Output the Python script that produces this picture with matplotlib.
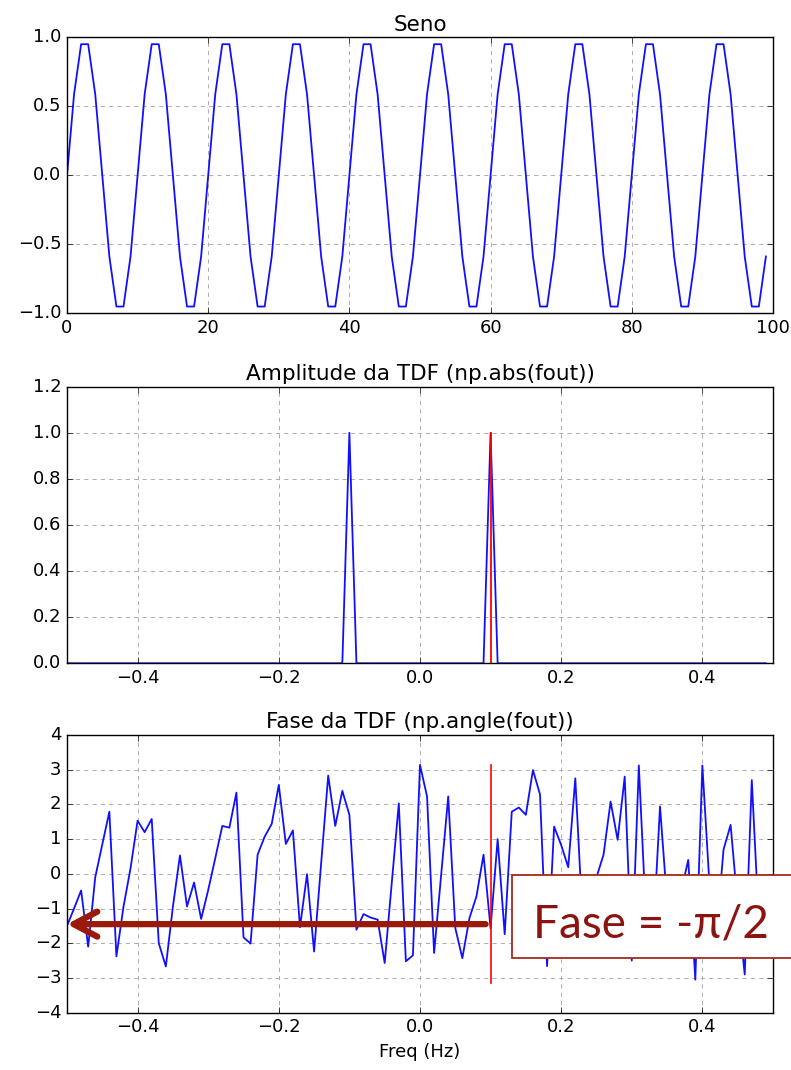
import numpy as np
import matplotlib.pyplot as plt
from matplotlib.patches import Rectangle

# eixo do tempo e das frequencias
n = np.arange(100)
freq = np.fft.fftshift(np.fft.fftfreq(100))

seno = [
    0.0, 0.588, 0.951, 0.951, 0.588, 0.0, -0.588, -0.951, -0.951, -0.588,
    0.0, 0.588, 0.951, 0.951, 0.588, 0.0, -0.588, -0.951, -0.951, -0.588,
    0.0, 0.588, 0.951, 0.951, 0.588, 0.0, -0.588, -0.951, -0.951, -0.588,
    0.0, 0.588, 0.951, 0.951, 0.588, 0.0, -0.588, -0.951, -0.951, -0.588,
    0.0, 0.588, 0.951, 0.951, 0.588, 0.0, -0.588, -0.951, -0.951, -0.588,
    0.0, 0.588, 0.951, 0.951, 0.588, 0.0, -0.588, -0.951, -0.951, -0.588,
    0.0, 0.588, 0.951, 0.951, 0.588, 0.0, -0.588, -0.951, -0.951, -0.588,
    0.0, 0.588, 0.951, 0.951, 0.588, 0.0, -0.588, -0.951, -0.951, -0.588,
    0.0, 0.588, 0.951, 0.951, 0.588, 0.0, -0.588, -0.951, -0.951, -0.588,
    0.0, 0.588, 0.951, 0.951, 0.588, 0.0, -0.588, -0.951, -0.951, -0.588,
]

amplitude = [
    0, 0, 0, 0, 0, 0, 0, 0, 0, 0,
    0, 0, 0, 0, 0, 0, 0, 0, 0, 0,
    0, 0, 0, 0, 0, 0, 0, 0, 0, 0,
    0, 0, 0, 0, 0, 0, 0, 0, 0, 0,
    1.0, 0, 0, 0, 0, 0, 0, 0, 0, 0,
    0, 0, 0, 0, 0, 0, 0, 0, 0, 0,
    1.0, 0, 0, 0, 0, 0, 0, 0, 0, 0,
    0, 0, 0, 0, 0, 0, 0, 0, 0, 0,
    0, 0, 0, 0, 0, 0, 0, 0, 0, 0,
    0, 0, 0, 0, 0, 0, 0, 0, 0, 0,
]

fase = [
    -1.50, -1.00, -0.48, -2.10, -0.10, 0.85, 1.79, -2.38, -0.95, 0.16,
    1.53, 1.20, 1.58, -2.00, -2.67, -0.95, 0.53, -0.94, -0.25, -1.30,
    -0.47, 0.45, 1.38, 1.33, 2.34, -1.83, -2.01, 0.55, 1.07, 1.44,
    2.56, 0.86, 1.25, -1.54, -0.01, -2.24, 0.30, 2.83, 1.38, 2.39,
    1.70, -1.61, -1.16, -1.26, -1.32, -2.57, -0.27, 2.03, -2.52, -2.35,
    3.14, 2.23, -2.28, -0.03, 2.23, -1.56, -2.43, -1.28, -0.65, 0.55,
    -1.57, 1.00, -1.74, 1.79, 1.91, 1.70, 2.99, 2.29, -2.66, 1.36,
    0.83, 0.19, 2.75, -1.20, -1.80, -0.10, 0.55, 2.08, 0.98, 2.80,
    -2.50, 3.12, -1.20, -1.90, 1.94, -0.80, -1.60, -0.50, 0.40, -3.05,
    3.12, -0.30, -1.70, 0.70, 1.41, -0.90, -2.90, 2.70, -1.40, -0.60,
]

f0 = 0.1

plt.style.use('classic')
plt.rcParams['font.size'] = 13
plt.rcParams['figure.facecolor'] = 'white'
plt.rcParams['savefig.facecolor'] = 'white'

fig = plt.figure(figsize=(7.91, 10.70), dpi=100)
left, width = 0.0847, 0.8925


def grade(ax):
    ax.grid(True, color='0.68', linestyle='--', linewidth=0.7, dashes=(3, 3))
    ax.set_axisbelow(True)


# sinal
ax1 = fig.add_axes([left, 0.7072, width, 0.2578])
ax1.plot(n, seno, color='#1010ff', lw=1.3)
ax1.set_xlim(0, 100)
ax1.set_ylim(-1, 1)
ax1.set_title('Seno', fontsize=15.5)
grade(ax1)

# amplitude
ax2 = fig.add_axes([left, 0.3801, width, 0.2585])
ax2.plot(freq, amplitude, color='#1010ff', lw=1.3)
ax2.plot([f0, f0], [0, 1], 'r-', lw=1.3)
ax2.set_xlim(-0.5, 0.5)
ax2.set_ylim(0, 1.2)
ax2.set_xticks([-0.4, -0.2, 0.0, 0.2, 0.4])
ax2.set_title('Amplitude da TDF (np.abs(fout))', fontsize=15.5)
grade(ax2)

# fase
ax3 = fig.add_axes([left, 0.0536, width, 0.2595])
ax3.plot(freq, fase, color='#1010ff', lw=1.3)
ax3.plot([f0, f0], [-np.pi, np.pi], 'r-', lw=1.2)
ax3.set_xlim(-0.5, 0.5)
ax3.set_ylim(-4, 4)
ax3.set_xticks([-0.4, -0.2, 0.0, 0.2, 0.4])
ax3.set_title('Fase da TDF (np.angle(fout))', fontsize=15.5)
ax3.set_xlabel('Freq (Hz)', fontsize=13)
grade(ax3)

ax3.annotate('', xy=(-0.5, -1.45), xytext=(0.093, -1.45),
             arrowprops=dict(arrowstyle='->,head_length=0.85,head_width=0.45',
                             color='#991a08', lw=4.5, mutation_scale=20,
                             shrinkA=0, shrinkB=0))

# caixa de texto
fig.patches.append(Rectangle((0.647, 0.1047), 0.40, 0.0776,
                             transform=fig.transFigure, facecolor='white',
                             edgecolor='#a82a1c', lw=1.3, zorder=10))
fig.text(0.674, 0.1234, 'Fase = -π/2', color='#8c1410', fontsize=33,
         family=['Lato', 'DejaVu Sans'], va='baseline', ha='left', zorder=11)

fig.savefig('out.png', dpi=100)
